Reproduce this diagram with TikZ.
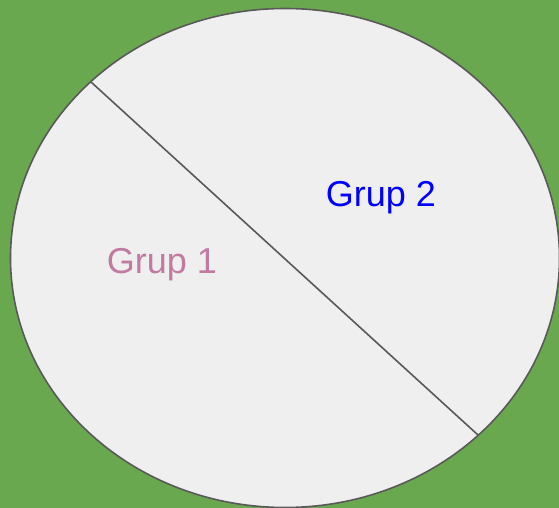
\documentclass[tikz,border=0pt]{standalone}
\usepackage{fontspec}
\setmainfont{Liberation Sans}
\definecolor{bggreen}{HTML}{6AA84F}
\definecolor{pie}{HTML}{EFEFEF}
\definecolor{edge}{HTML}{595959}
\definecolor{gone}{HTML}{C27BA0}
\definecolor{gtwo}{HTML}{0000FF}
\begin{document}
\begin{tikzpicture}[x=1pt,y=-1pt,
  lbl/.style={font=\fontsize{36}{42}\selectfont, anchor=base, inner sep=0pt}]
\fill[bggreen] (0,0) rectangle (559,508);
\useasboundingbox (0,0) rectangle (559,508);
\draw[edge, fill=pie, line width=1.6pt] (285,258) ellipse [x radius=274.5, y radius=249.5];
\coordinate (p) at (91,82);
\coordinate (q) at (478,435);
\draw[edge, line width=1.6pt] (p) -- (q);
\node[lbl, text=gone] (g1) at (162,273) {Grup 1};
\node[lbl, text=gtwo] (g2) at (381,206) {Grup 2};
\end{tikzpicture}
\end{document}
